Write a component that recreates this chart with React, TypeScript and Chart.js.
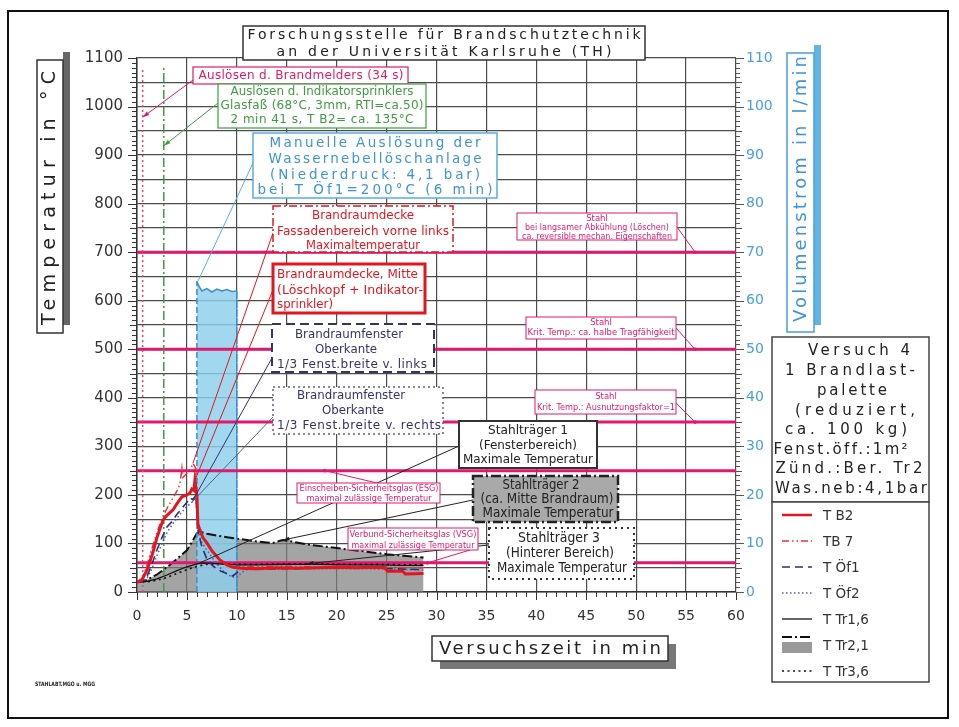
import React, { useEffect, useRef } from 'react';
import { Chart, registerables } from 'chart.js';

Chart.register(...registerables);

const FONT = '"DejaVu Sans", "Liberation Sans", sans-serif';

// ---------------- data: time in min, temperature in °C, flow in l/min ----------------
const b2Time = [0, 0.5, 1.0, 1.6, 2.0, 2.6, 3.0, 3.6, 4.0, 4.5, 5.0, 5.3, 5.5, 5.7, 5.8, 5.9, 6.0, 6.1, 6.3, 6.6, 7.0, 7.5, 8.3, 9.0, 9.6, 10.5, 12, 14, 16, 18, 20, 22, 24, 24.8, 25.1, 26.6, 26.9, 28.7];
const b2Temp = [20, 25, 45, 82, 112, 148, 158, 169, 182, 196, 200, 204, 212, 209, 230, 214, 200, 140, 128, 112, 101, 85, 66, 56, 51, 49, 48, 50, 49, 50, 51, 50, 51, 50, 43, 43, 37, 38];

const tb7Time = [0, 0.5, 1, 1.5, 2, 2.5, 3, 3.5, 4, 4.3, 4.5, 4.6, 4.8, 5.0, 5.3, 5.6, 5.9, 6.0, 6.3, 6.6, 7, 7.5, 8, 8.5, 9, 9.5, 10, 12, 15, 18, 21, 24, 27, 28.7];
const tb7Temp = [20, 28, 55, 90, 122, 152, 172, 190, 208, 222, 255, 236, 240, 245, 250, 265, 255, 150, 125, 112, 98, 85, 72, 62, 55, 52, 52, 52, 53, 52, 53, 52, 50, 50];

const of1Time = [0, 0.5, 1, 1.5, 2, 2.5, 3, 3.5, 4, 4.5, 5, 5.3, 5.6, 5.9, 6, 6.2, 6.5, 7, 7.5, 8, 8.5, 9, 9.6, 10, 10.5, 12, 15, 18, 21, 24, 27, 28.7];
const of1Temp = [20, 21, 32, 58, 87, 112, 134, 145, 160, 172, 185, 194, 190, 200, 165, 118, 93, 68, 56, 47, 42, 38, 33, 40, 48, 47, 48, 49, 50, 49, 47, 46];

const of2Time = [0, 0.5, 1, 1.5, 2, 2.5, 3, 3.5, 4, 4.5, 5, 5.5, 5.9, 6.1, 6.5, 7, 7.5, 8, 8.5, 9, 9.5, 10, 10.5, 11, 14, 18, 22, 26, 28.7];
const of2Temp = [20, 20, 28, 48, 75, 100, 122, 138, 152, 165, 176, 185, 195, 125, 102, 86, 72, 58, 46, 37, 31, 30, 40, 46, 47, 48, 48, 47, 45];

const tr16Time = [0, 1, 2, 3, 4, 5, 6, 6.5, 7.5, 9, 10, 12, 15, 18, 21, 24, 27, 28.7];
const tr16Temp = [20, 22, 27, 35, 44, 52, 58, 60, 59, 57, 56, 56, 57, 57, 56, 56, 55, 55];

const tr21Time = [0, 1, 2, 3, 4, 5, 5.5, 6.0, 6.3, 7, 8, 9, 10, 11, 12, 13, 13.6, 14.6, 15.5, 17, 19, 21, 23, 25, 27, 28.7];
const tr21Temp = [20, 25, 36, 51, 68, 86, 103, 121, 124, 120, 116, 113, 110, 107, 104, 102, 101, 107, 104, 98, 93, 88, 83, 78, 74, 71];

const tr36Time = [0, 1, 2, 3, 4, 5, 6, 7, 8, 10, 12, 15, 18, 21, 24, 27, 28.7];
const tr36Temp = [20, 21, 24, 30, 38, 46, 53, 57, 58, 57, 57, 58, 58, 57, 57, 56, 56];

const flowTime = [6.0, 6.0, 6.2, 6.5, 7.0, 7.5, 8.0, 8.5, 9.0, 9.5, 10.0, 10.0];
const flowRate = [0, 64, 63, 62, 62.5, 61.8, 62.4, 62, 62.3, 61.9, 62, 0];

const limitTemps = [700, 500, 350, 250, 60];
const timeSpan = [0, 60];
const detectorTime = 34 / 60; // 34 s
const sprinklerTime = 161 / 60; // 2 min 41 s
const eventLineTop = 1080;

const legendLabels = ['T B2', 'TB 7', 'T Öf1', 'T Öf2', 'T Tr1,6', 'T Tr2,1', 'T Tr3,6'];

// ---------------- styles / layout ----------------
const MAG = '#e2186e';
const RED = '#e3161e';
const NAVY = '#33336e';
const GREEN = '#3f9c3f';
const BLUE = '#3d94d6';
const GRID = '#4d4d4d';

type TLine = [string, number, number?, number?];
type Annot = {
  r: [number, number, number, number];
  stroke: string;
  lw: number;
  dash?: number[];
  fill?: string;
  color: string;
  size: number;
  cx?: number;
  left?: number;
  lines: TLine[];
  from?: [number, number];
  to?: [number, number, string?];
  lcolor?: string;
  arrow?: boolean;
  dot?: boolean;
};

const annotations: Annot[] = [
  { r: [193, 67, 408, 84], stroke: MAG, lw: 1.2, color: MAG, size: 12, cx: 301, lines: [['Auslösen d. Brandmelders (34 s)', 76, 205]], from: [193, 80], to: [detectorTime, 978], arrow: true },
  { r: [218, 84, 426, 128], stroke: GREEN, lw: 1.2, color: GREEN, size: 12, cx: 322, lines: [['Auslösen d. Indikatorsprinklers', 92, 183], ['Glasfaß (68°C, 3mm, RTI=ca.50)', 106, 203], ['2 min 41 s, T B2= ca. 135°C', 120, 183]], from: [218, 103], to: [sprinklerTime, 919], arrow: true },
  { r: [253, 133, 497, 198], stroke: '#5aaee0', lw: 1.5, color: BLUE, size: 13.5, cx: 375, lines: [['Manuelle Auslösung der', 143, 211], ['Wassernebellöschanlage', 159, 213], ['(Niederdruck: 4,1 bar)', 175, 210], ['bei T Öf1=200°C (6 min)', 190, 235]], from: [253, 163], to: [6.1, 64, 'y1'], lcolor: '#5aaee0' },
  { r: [273, 206, 453, 252], stroke: RED, lw: 1.5, dash: [8, 3, 2, 3], color: RED, size: 12, cx: 363, lines: [['Brandraumdecke', 216, 102], ['Fassadenbereich vorne links', 232, 172], ['Maximaltemperatur', 246, 114]], from: [273, 233], to: [5.6, 265] },
  { r: [273, 264, 425, 313], stroke: RED, lw: 3, color: RED, size: 12.5, left: 277, lines: [['Brandraumdecke, Mitte', 275, 141], ['(Löschkopf + Indikator-', 291, 146], ['sprinkler)', 305, 56]], from: [273, 290], to: [5.8, 230] },
  { r: [272, 324, 434, 372], stroke: NAVY, lw: 2, dash: [9, 5], color: NAVY, size: 12, lines: [['Brandraumfenster', 335, 108, 349], ['Oberkante', 350, 62, 346], ['1/3 Fenst.breite v. links', 365, 150, 352]], from: [272, 358], to: [5.9, 200] },
  { r: [273, 387, 443, 434], stroke: '#5a5f90', lw: 1.5, dash: [2, 3], color: NAVY, size: 12, lines: [['Brandraumfenster', 396, 108, 351], ['Oberkante', 411, 62, 353], ['1/3 Fenst.breite v. rechts', 426, 164, 359]], from: [273, 417], to: [5.5, 185] },
  { r: [459, 421, 597, 468], stroke: '#333', lw: 2, color: '#222', size: 13, cx: 528, lines: [['Stahlträger 1', 431, 80], ['(Fensterbereich)', 446, 98], ['Maximale Temperatur', 460, 130]], from: [459, 446], to: [6.3, 60], lcolor: '#222' },
  { r: [473, 476, 618, 522], stroke: '#222', lw: 2.5, dash: [10, 3, 2, 3], fill: '#a9a9a9', color: '#222', size: 13.5, lines: [['Stahlträger 2', 485, 77, 541], ['(ca. Mitte Brandraum)', 499, 133, 547], ['Maximale Temperatur', 513, 131, 548]], from: [473, 500], to: [14.6, 107], lcolor: '#222', arrow: true },
  { r: [489, 528, 634, 579], stroke: '#333', lw: 2, dash: [2, 4], color: '#222', size: 13.5, lines: [['Stahlträger 3', 538, 82, 559], ['(Hinterer Bereich)', 553, 108, 560], ['Maximale Temperatur', 568, 130, 562]], from: [489, 545], to: [17, 58], lcolor: '#222', arrow: true },
  { r: [517, 213, 677, 240], stroke: MAG, lw: 1, color: MAG, size: 8.5, cx: 597, lines: [['Stahl', 219], ['bei langsamer Abkühlung (Löschen)', 228, 144], ['ca. reversible mechan. Eigenschaften', 237, 150]], from: [677, 227], to: [55.9, 700], dot: true },
  { r: [526, 317, 676, 339], stroke: MAG, lw: 1, color: MAG, size: 8.5, cx: 601, lines: [['Stahl', 323], ['Krit. Temp.: ca. halbe Tragfähigkeit', 333, 147]], from: [676, 328], to: [55.9, 500], dot: true },
  { r: [535, 390, 676, 414], stroke: MAG, lw: 1, color: MAG, size: 8.5, cx: 606, lines: [['Stahl', 397], ['Krit. Temp.: Ausnutzungsfaktor=1', 408, 138]], from: [676, 403], to: [55.9, 350], dot: true },
  { r: [297, 483, 440, 503], stroke: MAG, lw: 1, color: MAG, size: 8.5, cx: 369, lines: [['Einscheiben-Sicherheitsglas (ESG)', 489, 139], ['maximal zulässige Temperatur', 499, 125]], from: [377, 483], to: [18.8, 250], dot: true },
  { r: [348, 528, 478, 550], stroke: MAG, lw: 1, color: MAG, size: 8.5, cx: 413, lines: [['Verbund-Sicherheitsglas (VSG)', 535, 127], ['maximal zulässige Temperatur', 546, 123]], from: [470, 550], to: [29.1, 60], dot: true },
];

const infoLines: TLine[] = [
  ['Versuch 4', 351, 102, 859],
  ['1 Brandlast-', 371, 130, 850],
  ['palette', 391, 70, 852],
  ['(reduziert,', 411, 120, 855],
  ['ca. 100 kg)', 430, 122, 846],
  ['Fenst.öff.:1m²', 450, 135, 841],
  ['Zünd.:Ber. Tr2', 469, 147, 849],
  ['Was.neb:4,1bar', 489, 152, 851],
];

function pts(xs: number[], ys: number[]) {
  return xs.map((x, i) => ({ x, y: ys[i] }));
}

function drawText(
  ctx: CanvasRenderingContext2D, text: string, cx: number, cy: number,
  w: number | undefined, size: number, color: string, leftX?: number, weight = 'normal'
) {
  ctx.save();
  ctx.font = `${weight} ${size}px ${FONT}`;
  (ctx as any).letterSpacing = '0px';
  const n = Array.from(text).length;
  const w0 = ctx.measureText(text).width;
  let ls = 0;
  let sx = 1;
  if (w && n > 1) {
    ls = (w - w0) / (n - 1);
    if (ls < 0) { ls = 0; sx = w / w0; }
  }
  (ctx as any).letterSpacing = `${ls}px`;
  ctx.textAlign = 'left';
  ctx.textBaseline = 'middle';
  ctx.fillStyle = color;
  const total = w || w0;
  const left = leftX !== undefined ? leftX : cx - total / 2;
  ctx.translate(left, cy);
  ctx.scale(sx, 1);
  ctx.fillText(text, 0, 0);
  ctx.restore();
}

function rectBox(ctx: CanvasRenderingContext2D, r: number[], stroke: string, lw: number, fill = '#fff', dash: number[] = []) {
  ctx.save();
  ctx.fillStyle = fill;
  ctx.fillRect(r[0], r[1], r[2] - r[0], r[3] - r[1]);
  ctx.strokeStyle = stroke;
  ctx.lineWidth = lw;
  ctx.setLineDash(dash);
  ctx.strokeRect(r[0], r[1], r[2] - r[0], r[3] - r[1]);
  ctx.restore();
}

const decorPlugin = {
  id: 'decor',
  beforeDraw(chart: any) {
    const { ctx, width, height } = chart;
    ctx.save();
    ctx.fillStyle = '#fff';
    ctx.fillRect(0, 0, width, height);
    ctx.restore();
  },
  afterDatasetsDraw(chart: any) {
    const ctx: CanvasRenderingContext2D = chart.ctx;
    const xs = chart.scales.x;
    annotations.forEach((a) => {
      if (!a.from || !a.to) return;
      const ys = chart.scales[a.to[2] || 'y'];
      const tx = xs.getPixelForValue(a.to[0]);
      const ty = ys.getPixelForValue(a.to[1]);
      const col = a.lcolor || a.stroke;
      ctx.save();
      ctx.strokeStyle = col;
      ctx.fillStyle = col;
      ctx.lineWidth = 1;
      ctx.beginPath();
      ctx.moveTo(a.from[0], a.from[1]);
      ctx.lineTo(tx, ty);
      ctx.stroke();
      if (a.arrow) {
        const ang = Math.atan2(ty - a.from[1], tx - a.from[0]);
        ctx.beginPath();
        ctx.moveTo(tx, ty);
        ctx.lineTo(tx - 7 * Math.cos(ang - 0.3), ty - 7 * Math.sin(ang - 0.3));
        ctx.lineTo(tx - 7 * Math.cos(ang + 0.3), ty - 7 * Math.sin(ang + 0.3));
        ctx.closePath();
        ctx.fill();
      }
      if (a.dot) {
        ctx.beginPath();
        ctx.arc(tx, ty, 1.8, 0, Math.PI * 2);
        ctx.fill();
      }
      ctx.restore();
    });
    annotations.forEach((a) => {
      rectBox(ctx, a.r, a.stroke, a.lw, a.fill || '#fff', a.dash || []);
      a.lines.forEach((l) => {
        const cx = l[3] !== undefined ? l[3] : (a.cx !== undefined ? a.cx : (a.r[0] + a.r[2]) / 2);
        drawText(ctx, l[0], cx, l[1], l[2], a.size, a.color, a.left);
      });
    });
  },
  afterDraw(chart: any) {
    const ctx: CanvasRenderingContext2D = chart.ctx;
    const xs = chart.scales.x;
    const ys = chart.scales.y;
    const y1 = chart.scales.y1;
    const area = chart.chartArea;

    ctx.save();
    ctx.strokeStyle = '#333';
    ctx.lineWidth = 1;
    ctx.beginPath();
    for (let v = 0; v <= 1100; v += 10) {
      const p = Math.round(ys.getPixelForValue(v)) + 0.5;
      const len = v % 100 === 0 ? 9 : v % 50 === 0 ? 7 : 5;
      ctx.moveTo(area.left - len, p);
      ctx.lineTo(area.left, p);
    }
    for (let t = 0; t <= 60; t += 1) {
      const p = Math.round(xs.getPixelForValue(t)) + 0.5;
      const len = t % 5 === 0 ? 8 : 5;
      ctx.moveTo(p, area.bottom);
      ctx.lineTo(p, area.bottom + len);
    }
    ctx.stroke();
    ctx.strokeStyle = '#555';
    ctx.beginPath();
    for (let v = 0; v <= 110; v += 1) {
      const p = Math.round(y1.getPixelForValue(v)) + 0.5;
      const len = v % 10 === 0 ? 8 : v % 5 === 0 ? 6 : 4;
      ctx.moveTo(area.right, p);
      ctx.lineTo(area.right + len, p);
    }
    ctx.stroke();
    ctx.restore();

    ctx.save();
    ctx.strokeStyle = '#111';
    ctx.lineWidth = 2;
    ctx.strokeRect(8, 11, 940, 707);
    ctx.restore();

    rectBox(ctx, [243, 26, 645, 60], '#333', 1.5);
    drawText(ctx, 'Forschungsstelle für Brandschutztechnik', 444, 35, 393, 14, '#222');
    drawText(ctx, 'an der Universität Karlsruhe (TH)', 444, 52, 335, 14, '#222');

    ctx.save();
    ctx.fillStyle = '#666';
    ctx.fillRect(63, 52, 7, 273);
    ctx.restore();
    rectBox(ctx, [37, 60, 63, 333], '#333', 1.5);
    ctx.save();
    ctx.translate(50, 198);
    ctx.rotate(-Math.PI / 2);
    drawText(ctx, 'Temperatur in °C', 0, 0, 254, 19, '#222');
    ctx.restore();

    ctx.save();
    ctx.fillStyle = '#62b4e6';
    ctx.fillRect(814, 45, 7, 280);
    ctx.restore();
    rectBox(ctx, [787, 53, 814, 332], '#4a9fd8', 1.5);
    ctx.save();
    ctx.translate(801, 189);
    ctx.rotate(-Math.PI / 2);
    drawText(ctx, 'Volumenstrom in l/min', 0, 0, 266, 18, '#3d94d6');
    ctx.restore();

    ctx.save();
    ctx.fillStyle = '#777';
    ctx.fillRect(440, 644, 236, 25);
    ctx.restore();
    rectBox(ctx, [432, 636, 668, 661], '#333', 1.5);
    drawText(ctx, 'Versuchszeit in min', 550, 649, 222, 18, '#222');

    rectBox(ctx, [772, 337, 929, 502], '#444', 1.5);
    infoLines.forEach((l) => drawText(ctx, l[0], l[3] as number, l[1], l[2], 15, '#222'));

    rectBox(ctx, [772, 502, 929, 682], '#444', 1.5);
    legendLabels.forEach((lab, i) => {
      const ds = chart.data.datasets.find((d: any) => d.label === lab);
      if (!ds) return;
      const y = 515 + i * 26;
      ctx.save();
      if (ds.fill) {
        ctx.fillStyle = '#9a9a9a';
        ctx.fillRect(782, y - 3, 30, 11);
      }
      ctx.strokeStyle = ds.borderColor;
      ctx.lineWidth = Math.min(ds.borderWidth, 2.5);
      ctx.setLineDash(ds.borderDash || []);
      ctx.beginPath();
      const ly = ds.fill ? y - 8 : y;
      ctx.moveTo(782, ly);
      ctx.lineTo(812, ly);
      ctx.stroke();
      ctx.restore();
      drawText(ctx, lab, 0, y + 1, undefined, 13.5, '#333', 823);
    });

    drawText(ctx, 'STAHLABT.MGO u. MGG', 0, 684, 60, 6, '#222', 35, 'bold');
  },
};

function buildConfig(): any {
  const curve = (label: string, xs: number[], ys: number[], color: string, width: number, order: number, dash: number[] = [], extra: any = {}) => ({
    label, data: pts(xs, ys), borderColor: color, borderWidth: width, borderDash: dash,
    pointRadius: 0, fill: false, order, tension: 0, ...extra,
  });
  const datasets: any[] = [
    curve('T B2', b2Time, b2Temp, RED, 3, 1),
    curve('TB 7', tb7Time, tb7Temp, '#e8303a', 1.5, 2, [7, 3, 1.5, 3, 1.5, 3]),
    curve('T Öf1', of1Time, of1Temp, '#2c2e78', 1.6, 3, [8, 5]),
    curve('T Öf2', of2Time, of2Temp, '#4a5bb8', 1.5, 4, [1.5, 2.5]),
    curve('T Tr1,6', tr16Time, tr16Temp, '#111', 1.3, 5),
    curve('T Tr3,6', tr36Time, tr36Temp, '#111', 1.6, 6, [2, 3.5]),
    curve('T Tr2,1', tr21Time, tr21Temp, '#111', 2, 16, [10, 3, 2, 3], { fill: 'origin', backgroundColor: 'rgba(125,125,125,0.7)' }),
    {
      label: 'Volumenstrom', yAxisID: 'y1', data: pts(flowTime, flowRate), borderColor: '#3a8fd0', borderWidth: 1.5,
      pointRadius: 0, fill: 'origin', backgroundColor: 'rgba(140,207,236,0.82)', order: 15, tension: 0,
      segment: { borderDash: (c: any) => (c.p0.parsed.x === c.p1.parsed.x ? [6, 3] : undefined) },
    },
    ...limitTemps.map((T) => ({
      label: `limit ${T}`, data: timeSpan.map((t) => ({ x: t, y: T })), borderColor: MAG, borderWidth: 3,
      pointRadius: 0, fill: false, order: 10,
    })),
    {
      label: 'Brandmelder', data: [{ x: detectorTime, y: 0 }, { x: detectorTime, y: eventLineTop }], borderColor: '#e0457f',
      borderWidth: 1.5, borderDash: [2, 3], pointRadius: 0, fill: false, order: 9,
    },
    {
      label: 'Indikatorsprinkler', data: [{ x: sprinklerTime, y: 0 }, { x: sprinklerTime, y: eventLineTop }], borderColor: GREEN,
      borderWidth: 1.5, borderDash: [9, 3, 2, 3], pointRadius: 0, fill: false, order: 9,
    },
  ];
  const grid = { color: GRID, lineWidth: 1.2, drawTicks: false };
  return {
    type: 'line',
    data: { datasets },
    options: {
      animation: false,
      responsive: false,
      maintainAspectRatio: false,
      devicePixelRatio: 1,
      events: [],
      layout: { padding: { top: 58, left: 0, right: 0, bottom: 0 } },
      plugins: {
        legend: { display: false },
        tooltip: { enabled: false },
        filler: { drawTime: 'beforeDatasetsDraw' },
      },
      scales: {
        x: {
          type: 'linear', min: 0, max: 60,
          afterFit: (s: any) => { s.height = 135; },
          ticks: { stepSize: 5, autoSkip: false, maxRotation: 0, padding: 16, color: '#333', font: { family: FONT, size: 14 } },
          grid,
          border: { display: true, color: '#333', width: 1.5 },
        },
        y: {
          type: 'linear', min: 0, max: 1100,
          afterFit: (s: any) => { s.width = 137; },
          ticks: {
            stepSize: 50, autoSkip: false, padding: 14, color: '#333', font: { family: FONT, size: 15 },
            callback: (v: any) => (Number(v) % 100 === 0 ? String(v) : ''),
          },
          grid,
          border: { display: true, color: '#333', width: 1.5 },
        },
        y1: {
          type: 'linear', position: 'right', min: 0, max: 110,
          afterFit: (s: any) => { s.width = 223; },
          ticks: { stepSize: 10, autoSkip: false, padding: 10, color: '#48a0dc', font: { family: FONT, size: 14 } },
          grid: { drawOnChartArea: false, drawTicks: false },
          border: { display: false },
        },
      },
    },
    plugins: [decorPlugin],
  };
}

export default function App() {
  const ref = useRef<HTMLCanvasElement>(null);
  useEffect(() => {
    const chart = new Chart(ref.current as HTMLCanvasElement, buildConfig());
    return () => chart.destroy();
  }, []);
  return (
    <div style={{ position: 'fixed', left: 0, top: 0, width: 959, height: 727, background: '#fff' }}>
      <canvas ref={ref} width={959} height={727} style={{ display: 'block', width: 959, height: 727 }} />
    </div>
  );
}
